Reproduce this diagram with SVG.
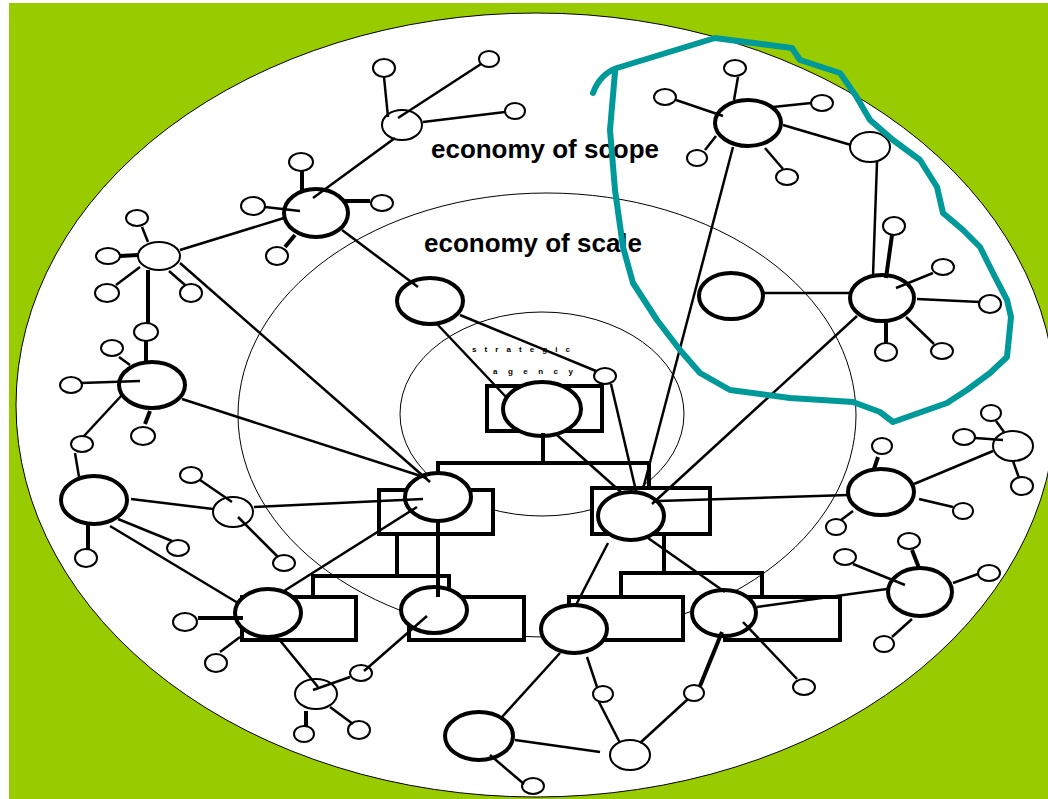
<svg xmlns="http://www.w3.org/2000/svg" width="1048" height="799" viewBox="0 0 1048 799">
<style>
.big{fill:#fff;stroke:#000;stroke-width:4}
.mid{fill:#fff;stroke:#000;stroke-width:2}
.sat{fill:#fff;stroke:#000;stroke-width:2}
.box{fill:#fff;stroke:#000;stroke-width:4}
.ring{fill:none;stroke:#000;stroke-width:1}
#connectors line{stroke:#000;stroke-width:2.5;stroke-linecap:butt}
#connectors line.t{stroke-width:4}
#connectors path{fill:none;stroke:#000;stroke-width:4}
.lbl{font-family:"Liberation Sans",Arial,sans-serif;font-weight:bold;fill:#000}
</style>
<rect x="0" y="0" width="1048" height="799" fill="#fff"/>
<rect x="9" y="3" width="1039" height="796" fill="#99CC00"/>
<ellipse cx="536" cy="405" rx="520" ry="392" fill="#fff" stroke="#000" stroke-width="1"/>
<ellipse class="ring" cx="547" cy="415" rx="309" ry="222"/>
<ellipse class="ring" cx="542" cy="414" rx="142" ry="102"/>
<text class="lbl" x="431" y="158" font-size="26" textLength="228" lengthAdjust="spacingAndGlyphs">economy of scope</text>
<text class="lbl" x="424" y="252" font-size="26" textLength="218" lengthAdjust="spacingAndGlyphs">economy of scale</text>
<text class="lbl" x="472" y="352" font-size="8" textLength="98" lengthAdjust="spacing">s t r a t e g i c</text>
<text class="lbl" x="493" y="374" font-size="8" textLength="80" lengthAdjust="spacing">a g e n c y</text>

<g id="nodes">
<g id="node-A"><ellipse class="mid" cx="402" cy="125" rx="20" ry="15"/><ellipse class="sat" cx="384" cy="68" rx="11" ry="9"/><ellipse class="sat" cx="489" cy="59" rx="10" ry="8"/><ellipse class="sat" cx="515" cy="111" rx="10" ry="8"/></g>
<g id="node-B"><ellipse class="big" cx="316" cy="213" rx="32" ry="24"/><ellipse class="sat" cx="301" cy="162" rx="12" ry="9"/><ellipse class="sat" cx="253" cy="206" rx="12" ry="9"/><ellipse class="sat" cx="382" cy="203" rx="11" ry="8"/><ellipse class="sat" cx="277" cy="256" rx="11" ry="9"/></g>
<g id="node-C"><ellipse class="big" cx="430" cy="301" rx="33" ry="23"/></g>
<g id="node-D"><ellipse class="mid" cx="159" cy="256" rx="21" ry="14"/><ellipse class="sat" cx="137" cy="218" rx="11" ry="8"/><ellipse class="sat" cx="108" cy="256" rx="12" ry="8"/><ellipse class="sat" cx="107" cy="293" rx="12" ry="9"/><ellipse class="sat" cx="191" cy="293" rx="11" ry="9"/><ellipse class="sat" cx="146" cy="332" rx="12" ry="9"/></g>
<g id="node-E"><ellipse class="big" cx="152" cy="385" rx="33" ry="23"/><ellipse class="sat" cx="112" cy="348" rx="11" ry="8"/><ellipse class="sat" cx="71" cy="385" rx="11" ry="8"/><ellipse class="sat" cx="82" cy="444" rx="11" ry="8"/><ellipse class="sat" cx="143" cy="436" rx="12" ry="9"/></g>
<g id="node-G"><ellipse class="big" cx="94" cy="500" rx="33" ry="24"/><ellipse class="sat" cx="86" cy="558" rx="11" ry="9"/><ellipse class="sat" cx="178" cy="548" rx="11" ry="8"/></g>
<g id="node-H"><ellipse class="mid" cx="233" cy="512" rx="20" ry="15"/><ellipse class="sat" cx="191" cy="475" rx="11" ry="8"/><ellipse class="sat" cx="284" cy="563" rx="11" ry="8"/></g>
<g id="node-R"><rect class="box" x="487" y="386" width="115" height="45"/><ellipse class="big" cx="542" cy="409" rx="39" ry="27"/></g>
<g id="node-S"><ellipse class="sat" cx="605" cy="376" rx="11" ry="8"/></g>
<g id="node-F"><rect class="box" x="379" y="490" width="114" height="44"/><ellipse class="big" cx="438" cy="497" rx="33" ry="24"/></g>
<g id="node-Q"><rect class="box" x="592" y="488" width="118" height="46"/><ellipse class="big" cx="631" cy="516" rx="33" ry="24"/></g>
<g id="node-I"><rect class="box" x="242" y="597" width="114" height="43"/><ellipse class="big" cx="268" cy="613" rx="33" ry="24"/><ellipse class="sat" cx="185" cy="622" rx="12" ry="9"/><ellipse class="sat" cx="216" cy="663" rx="11" ry="9"/></g>
<g id="node-J"><rect class="box" x="409" y="597" width="115" height="43"/><ellipse class="big" cx="434" cy="610" rx="33" ry="23"/></g>
<g id="node-N"><rect class="box" x="569" y="597" width="114" height="43"/><ellipse class="big" cx="574" cy="629" rx="33" ry="24"/><ellipse class="sat" cx="603" cy="694" rx="10" ry="8"/></g>
<g id="node-P"><rect class="box" x="725" y="597" width="115" height="43"/><ellipse class="big" cx="724" cy="613" rx="32" ry="23"/><ellipse class="sat" cx="694" cy="693" rx="10" ry="8"/><ellipse class="sat" cx="804" cy="687" rx="11" ry="8"/></g>
<g id="node-L"><ellipse class="sat" cx="361" cy="673" rx="11" ry="8"/></g>
<g id="node-K"><ellipse class="mid" cx="316" cy="694" rx="21" ry="15"/><ellipse class="sat" cx="304" cy="734" rx="10" ry="8"/><ellipse class="sat" cx="359" cy="730" rx="11" ry="9"/></g>
<g id="node-M"><ellipse class="big" cx="479" cy="736" rx="34" ry="24"/><ellipse class="sat" cx="533" cy="786" rx="11" ry="8"/></g>
<g id="node-O"><ellipse class="mid" cx="630" cy="755" rx="20" ry="15"/></g>
<g id="node-T"><ellipse class="big" cx="748" cy="123" rx="33" ry="23"/><ellipse class="sat" cx="735" cy="68" rx="11" ry="8"/><ellipse class="sat" cx="665" cy="97" rx="11" ry="8"/><ellipse class="sat" cx="822" cy="103" rx="11" ry="8"/><ellipse class="sat" cx="697" cy="158" rx="10" ry="8"/><ellipse class="sat" cx="787" cy="177" rx="11" ry="8"/></g>
<g id="node-Y"><ellipse class="mid" cx="870" cy="147" rx="20" ry="15"/></g>
<g id="node-Z"><ellipse class="big" cx="731" cy="296" rx="32" ry="23"/></g>
<g id="node-U"><ellipse class="big" cx="882" cy="298" rx="32" ry="23"/><ellipse class="sat" cx="894" cy="226" rx="11" ry="9"/><ellipse class="sat" cx="943" cy="267" rx="11" ry="8"/><ellipse class="sat" cx="990" cy="304" rx="11" ry="9"/><ellipse class="sat" cx="886" cy="352" rx="11" ry="9"/><ellipse class="sat" cx="942" cy="351" rx="11" ry="8"/></g>
<g id="node-V"><ellipse class="big" cx="881" cy="492" rx="33" ry="23"/><ellipse class="sat" cx="882" cy="446" rx="10" ry="8"/><ellipse class="sat" cx="963" cy="511" rx="10" ry="8"/><ellipse class="sat" cx="836" cy="527" rx="10" ry="8"/></g>
<g id="node-W"><ellipse class="mid" cx="1013" cy="446" rx="20" ry="15"/><ellipse class="sat" cx="991" cy="413" rx="10" ry="8"/><ellipse class="sat" cx="964" cy="437" rx="11" ry="8"/><ellipse class="sat" cx="1022" cy="486" rx="11" ry="9"/></g>
<g id="node-X"><ellipse class="big" cx="920" cy="592" rx="32" ry="24"/><ellipse class="sat" cx="909" cy="541" rx="11" ry="8"/><ellipse class="sat" cx="845" cy="557" rx="11" ry="8"/><ellipse class="sat" cx="989" cy="573" rx="11" ry="8"/><ellipse class="sat" cx="884" cy="644" rx="10" ry="8"/></g>
</g>

<g id="connectors">
<path d="M543,433 V463 M438,474 V463 H649 V488 M397,534 V576 M313,597 V576 H449 V588 M664,534 V573 M621,597 V573 H762 V597"/>
<line x1="384" y1="77" x2="388" y2="117"/>
<line x1="481" y1="64" x2="398" y2="118"/>
<line x1="505" y1="112" x2="423" y2="122"/>
<line x1="395" y1="138" x2="313" y2="198"/>
<line class="t" x1="302" y1="171" x2="302" y2="192"/>
<line x1="265" y1="207" x2="300" y2="211"/>
<line class="t" x1="345" y1="201" x2="370" y2="201"/>
<line class="t" x1="285" y1="247" x2="295" y2="235"/>
<line x1="342" y1="230" x2="418" y2="287"/>
<line x1="180" y1="250" x2="284" y2="218"/>
<line x1="142" y1="227" x2="148" y2="242"/>
<line class="t" x1="120" y1="256" x2="138" y2="255"/>
<line x1="116" y1="285" x2="140" y2="267"/>
<line x1="169" y1="271" x2="185" y2="285"/>
<line class="t" x1="148" y1="270" x2="148" y2="323"/>
<line class="t" x1="146" y1="341" x2="146" y2="361"/>
<line x1="180" y1="263" x2="430" y2="482"/>
<line x1="119" y1="357" x2="130" y2="365"/>
<line x1="81" y1="383" x2="140" y2="381"/>
<line x1="84" y1="436" x2="122" y2="395"/>
<line class="t" x1="145" y1="424" x2="150" y2="411"/>
<line x1="182" y1="399" x2="427" y2="478"/>
<line x1="75" y1="453" x2="79" y2="477"/>
<line class="t" x1="88" y1="525" x2="88" y2="549"/>
<line x1="118" y1="519" x2="172" y2="541"/>
<line x1="131" y1="499" x2="213" y2="509"/>
<line x1="110" y1="526" x2="238" y2="603"/>
<line x1="200" y1="480" x2="232" y2="502"/>
<line x1="238" y1="517" x2="278" y2="557"/>
<line x1="254" y1="507" x2="423" y2="499"/>
<line x1="284" y1="591" x2="417" y2="507"/>
<line class="t" x1="438" y1="522" x2="438" y2="597"/>
<line class="t" x1="198" y1="618" x2="243" y2="618"/>
<line x1="220" y1="652" x2="240" y2="637"/>
<line x1="278" y1="638" x2="318" y2="687"/>
<line x1="427" y1="616" x2="364" y2="671"/>
<line x1="350" y1="677" x2="313" y2="690"/>
<line class="t" x1="306" y1="711" x2="306" y2="726"/>
<line x1="330" y1="707" x2="353" y2="724"/>
<line x1="490" y1="755" x2="524" y2="784"/>
<line x1="502" y1="717" x2="560" y2="653"/>
<line x1="515" y1="740" x2="600" y2="752"/>
<line x1="587" y1="657" x2="597" y2="687"/>
<line x1="599" y1="702" x2="620" y2="743"/>
<line x1="688" y1="699" x2="640" y2="743"/>
<line class="t" x1="722" y1="632" x2="700" y2="686"/>
<line x1="743" y1="622" x2="797" y2="679"/>
<line x1="608" y1="543" x2="576" y2="605"/>
<line x1="648" y1="538" x2="725" y2="592"/>
<line x1="658" y1="501" x2="848" y2="495"/>
<line x1="887" y1="589" x2="757" y2="607"/>
<line x1="557" y1="435" x2="622" y2="493"/>
<line x1="438" y1="325" x2="506" y2="397"/>
<line x1="460" y1="315" x2="596" y2="371"/>
<line x1="611" y1="384" x2="636" y2="491"/>
<line x1="733" y1="147" x2="643" y2="489"/>
<line x1="857" y1="316" x2="652" y2="504"/>
<line x1="738" y1="77" x2="734" y2="100"/>
<line x1="676" y1="100" x2="723" y2="116"/>
<line x1="773" y1="107" x2="811" y2="103"/>
<line x1="705" y1="150" x2="716" y2="136"/>
<line x1="765" y1="148" x2="783" y2="169"/>
<line x1="783" y1="125" x2="851" y2="145"/>
<line x1="877" y1="162" x2="873" y2="276"/>
<line x1="763" y1="293" x2="850" y2="293"/>
<line class="t" x1="892" y1="235" x2="886" y2="278"/>
<line x1="933" y1="273" x2="896" y2="288"/>
<line x1="917" y1="299" x2="980" y2="302"/>
<line class="t" x1="886" y1="322" x2="886" y2="343"/>
<line x1="906" y1="317" x2="934" y2="344"/>
<line class="t" x1="874" y1="469" x2="878" y2="457"/>
<line x1="919" y1="499" x2="953" y2="507"/>
<line x1="841" y1="520" x2="853" y2="511"/>
<line x1="914" y1="484" x2="993" y2="451"/>
<line x1="996" y1="421" x2="1004" y2="432"/>
<line x1="975" y1="438" x2="1003" y2="440"/>
<line x1="1013" y1="461" x2="1019" y2="478"/>
<line class="t" x1="912" y1="550" x2="919" y2="568"/>
<line x1="853" y1="564" x2="905" y2="585"/>
<line x1="953" y1="583" x2="978" y2="574"/>
<line x1="892" y1="637" x2="912" y2="619"/>
</g>

<path id="scope-outline" d="M593,93 Q600,74 617,68 L715,38 L792,48 L800,60 L840,73 L856,96 L870,120 L893,140 L920,160 L937,187 L943,213 L963,230 L980,247 L993,273 L1007,300 L1011,317 L1007,357 L990,373 L967,390 L947,403 L893,422 L880,412 L853,402 L790,398 L730,390 L700,373 L680,350 L657,320 L633,283 L623,247 L615,190 L610,130 L615,72" fill="none" stroke="#009999" stroke-width="6" stroke-linejoin="round" stroke-linecap="round"/>
</svg>
